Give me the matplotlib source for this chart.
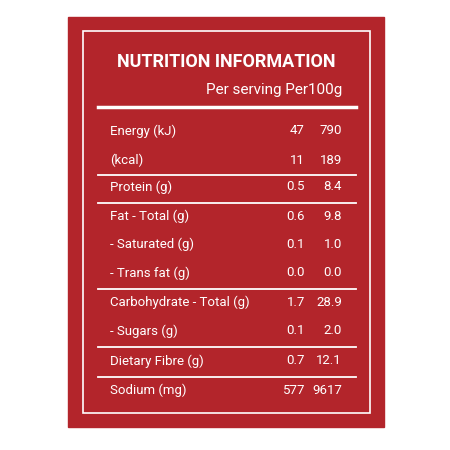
import matplotlib.pyplot as plt
from matplotlib.patches import Rectangle

labels = ["Energy (kJ)", "(kcal)", "Protein (g)", "Fat - Total (g)", "- Saturated (g)",
          "- Trans fat (g)", "Carbohydrate - Total (g)", "- Sugars (g)", "Dietary Fibre (g)", "Sodium (mg)"]
per_serving = ["47", "11", "0.5", "0.6", "0.1", "0.0", "1.7", "0.1", "0.7", "577"]
per_100g = ["790", "189", "8.4", "9.8", "1.0", "0.0", "28.9", "2.0", "12.1", "9617"]
rule_after = [1, 2, 5, 7, 8]  # divider lines below these rows

red = "#b3252b"
fam = ["Liberation Sans Narrow", "Roboto", "DejaVu Sans"]
fig = plt.figure(figsize=(4.5, 4.5), dpi=100)
ax = fig.add_axes([0, 0, 1, 1])
ax.set_xlim(0, 450)
ax.set_ylim(450, 0)
ax.axis("off")

ax.add_patch(Rectangle((68, 17), 316, 410, color=red))
ax.add_patch(Rectangle((83, 31), 287, 382, fill=False, ec="white", lw=1.2))

ax.text(226, 62, "NUTRITION INFORMATION", color="white", fontsize=13,
        fontweight="bold", ha="center", va="center", family=fam)
ax.text(342, 90, "Per serving Per100g", color="white", fontsize=11,
        ha="right", va="center", family=fam)
ax.plot([98, 356], [107, 107], color="white", lw=2.5)

ys = [131, 160, 187, 216, 244, 273, 302, 331, 361, 390]
for i, (lab, s, p) in enumerate(zip(labels, per_serving, per_100g)):
    y = ys[i]
    ax.text(110, y, lab, color="white", fontsize=9.5, ha="left", va="center", family=fam)
    ax.text(305, y, s, color="white", fontsize=9.5, ha="right", va="center", family=fam)
    ax.text(342, y, p, color="white", fontsize=9.5, ha="right", va="center", family=fam)
    if i in rule_after:
        yl = (ys[i] + ys[i + 1]) / 2 + 1
        ax.plot([98, 356], [yl, yl], color="white", lw=1.3)

fig.savefig("out.png", dpi=100, facecolor="white")
